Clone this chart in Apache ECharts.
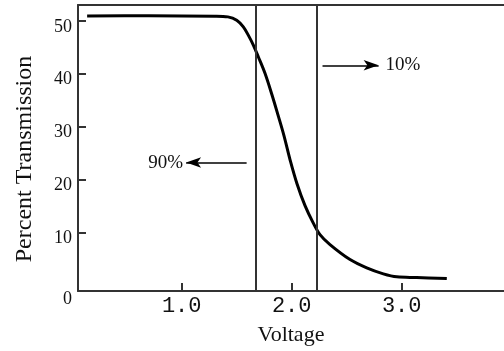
<!DOCTYPE html>
<html>
<head>
<meta charset="utf-8">
<script src="https://cdn.jsdelivr.net/npm/echarts@6/dist/echarts.min.js"></script>
<style>
html,body{margin:0;padding:0;background:#fff;}
#chart{width:504px;height:351px;}
</style>
</head>
<body>
<div id="chart"></div>
<script>
// Curve: voltage (V) vs percent transmission
const voltage = [0.14, 0.7, 1.30, 1.42, 1.50, 1.56, 1.605, 1.651, 1.696, 1.757, 1.821, 1.875, 1.930, 1.985, 2.048, 2.121, 2.194, 2.257, 2.348, 2.530, 2.682, 2.833, 2.955, 3.136, 3.41];
const transmission = [50.94, 50.95, 50.89, 50.75, 50.13, 48.87, 47.30, 45.42, 43.21, 40.08, 35.98, 32.21, 28.25, 23.72, 19.19, 15.04, 11.83, 9.57, 7.68, 4.85, 3.28, 2.15, 1.58, 1.45, 1.26];

// Vertical marker lines (90% and 10% voltages)
const markerVoltages = [1.674, 2.229];

// Arrow annotations
const arrowLabels = ['90%', '10%'];
const arrowFromX = [1.59, 2.28];
const arrowToX = [1.04, 2.79];
const arrowY = [23.2, 41.6];
const arrowLabelGap = [3, 7];

// Axis ticks
const xTicks = [1.0, 2.0, 3.0];
const yTicks = [10, 20, 30, 40, 50];
const xMin = 0.057, xMax = 3.93, yMin = -1.1, yMax = 53;

const chart = echarts.init(document.getElementById('chart'), null, {renderer: 'canvas'});

const axisColor = '#333';
const textColor = '#111';

const arrowData = arrowLabels.map((lab, i) => [
  {coord: [arrowFromX[i], arrowY[i]], symbol: 'none'},
  {coord: [arrowToX[i], arrowY[i]], symbol: 'arrow', name: lab, label: {distance: arrowLabelGap[i]}}
]);

const option = {
  animation: false,
  backgroundColor: '#fff',
  grid: {left: 78, top: 5, right: 0, bottom: 60, show: false},
  xAxis: [{
    type: 'value', min: xMin, max: xMax,
    name: 'Voltage', nameLocation: 'middle', nameGap: 33,
    nameTextStyle: {fontFamily: 'Liberation Serif', fontSize: 22, color: textColor},
    axisLine: {show: true, onZero: false, lineStyle: {color: axisColor, width: 2}},
    axisTick: {show: true, inside: true, length: 8, customValues: xTicks, lineStyle: {color: axisColor, width: 2}},
    axisLabel: {customValues: xTicks, margin: 4, fontFamily: 'Liberation Mono', fontSize: 22, color: textColor,
      formatter: v => v.toFixed(1)},
    splitLine: {show: false}
  }, {
    type: 'value', min: xMin, max: xMax, position: 'top',
    axisLine: {show: true, onZero: false, lineStyle: {color: axisColor, width: 2}},
    axisTick: {show: false}, axisLabel: {show: false}, splitLine: {show: false}
  }],
  yAxis: {
    type: 'value', min: yMin, max: yMax,
    name: 'Percent Transmission', nameLocation: 'middle', nameGap: 41,
    nameTextStyle: {fontFamily: 'Liberation Serif', fontSize: 24, color: textColor, padding: [0, 22, 0, 0]},
    axisLine: {show: true, onZero: false, lineStyle: {color: axisColor, width: 2}},
    axisTick: {show: true, inside: true, length: 8, customValues: yTicks, lineStyle: {color: axisColor, width: 2}},
    axisLabel: {customValues: [yMin].concat(yTicks), margin: 6, fontFamily: 'Liberation Serif', fontSize: 18, color: textColor,
      padding: [12, 0, 0, 0],
      formatter: v => (v < 0 ? '{z|0}' : String(v)),
      rich: {z: {fontFamily: 'Liberation Serif', fontSize: 18, color: textColor, padding: [4, 0, 0, 0]}}},
    splitLine: {show: false}
  },
  series: [
    {
      type: 'line',
      data: voltage.map((v, i) => [v, transmission[i]]),
      smooth: 0.35,
      showSymbol: false,
      symbol: 'none',
      lineStyle: {color: '#000', width: 3},
      markLine: {
        silent: true,
        symbol: ['none', 'none'],
        label: {show: false},
        lineStyle: {color: axisColor, width: 2, type: 'solid'},
        data: markerVoltages.map(v => ({xAxis: v}))
      }
    },
    {
      type: 'line',
      data: [],
      markLine: {
        silent: true,
        symbolSize: [8, 15],
        lineStyle: {color: '#000', width: 1.5, type: 'solid'},
        label: {show: true, position: 'end', distance: 3, formatter: p => p.name,
          fontFamily: 'Liberation Serif', fontSize: 19, color: textColor},
        data: arrowData
      }
    }
  ]
};
chart.setOption(option);
</script>
</body>
</html>
